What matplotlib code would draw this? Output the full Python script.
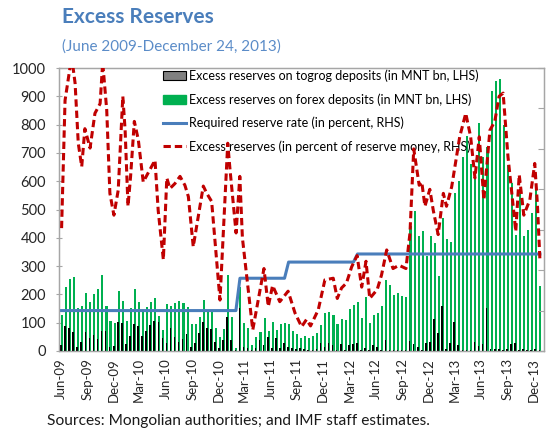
import numpy as np
import pandas as pd
import matplotlib
matplotlib.use('Agg')
import matplotlib.pyplot as plt
from matplotlib.patches import Patch
from matplotlib.lines import Line2D

plt.rcParams['font.family'] = ['Lato', 'DejaVu Sans']

# biweekly observations, June 2009 - December 24, 2013 (MNT bn, LHS)
togrog = [21, 88, 82, 68, 13, 33, 66, 45, 57, 41, 72, 72, 15, 16, 104, 100, 24, 53,
          95, 89, 53, 71, 92, 107, 104, 45, 27, 82, 48, 33, 41, 60, 15, 29, 62, 104,
          80, 77, 33, 12, 39, 119, 39, 5, 151,
          13, 12, 5, 10, 39, 21, 48, 10, 45, 10, 27, 15,
          10, 8, 12, 8, 5, 5, 8, 27, 15, 30, 21, 5, 24, 5, 21, 24, 30, 5, 10, 5, 21,
          15, 5, 39, 5, 5, 5, 5, 5,
          36, 25, 13, 5, 30, 33, 114, 65, 160, 8, 28, 104, 20, 5, 5, 5, 31, 19, 23,
          151, 8, 8, 8, 5, 8, 23, 27, 5, 8, 5, 5, 8, 5]
forex = [127, 225, 253, 260, 151, 159, 204, 173, 201, 220, 268, 160, 106, 100, 212,
         177, 106, 151, 218, 172, 139, 157, 174, 186, 124, 74, 166, 159, 171, 177,
         171, 157, 95, 95, 121, 180, 138, 138, 80, 48, 77, 268, 119, 10, 225,
         98, 80, 21, 51, 68, 115, 72, 104, 74, 95, 100, 95,
         71, 59, 45, 53, 45, 53, 65, 92, 133, 138, 127, 95, 114, 110, 148, 163, 173,
         115, 192, 100, 127, 133, 159, 251, 233, 198, 204, 194, 190,
         443, 496, 406, 424, 335, 407, 383, 265, 469, 396, 386, 557, 602, 684, 760,
         661, 622, 807, 687, 720, 920, 955, 961, 800, 657, 592, 410, 563, 406, 428,
         487, 587, 230]
# required reserve rate, percent (RHS)
req_rate = [5.0] * 44 + [9.0] * 12 + [11.0] * 17 + [12.0] * 46

# excess reserves in percent of reserve money (RHS)
excess_dates = ['2009-06-04', '2009-06-16', '2009-07-09', '2009-07-21', '2009-08-01',
                '2009-08-13', '2009-08-24', '2009-09-11', '2009-09-28', '2009-10-16',
                '2009-10-25', '2009-11-08', '2009-11-19', '2009-12-03', '2009-12-18',
                '2010-01-03', '2010-01-11', '2010-01-21', '2010-01-30', '2010-02-12',
                '2010-02-26', '2010-03-15', '2010-04-25', '2010-05-06', '2010-05-24',
                '2010-06-05', '2010-06-16', '2010-07-03', '2010-07-21', '2010-08-07',
                '2010-08-19', '2010-09-05', '2010-10-10', '2010-10-22', '2010-11-08',
                '2010-12-07', '2011-01-03', '2011-01-11', '2011-02-01', '2011-02-14',
                '2011-02-23', '2011-03-31', '2011-05-09', '2011-05-24', '2011-06-08',
                '2011-07-03', '2011-08-01', '2011-08-25', '2011-09-17', '2011-10-04',
                '2011-10-18', '2011-11-14', '2011-12-07', '2012-01-05', '2012-01-19',
                '2012-02-03', '2012-02-20', '2012-03-09', '2012-03-28', '2012-04-13',
                '2012-04-28', '2012-05-11', '2012-06-06', '2012-06-21', '2012-07-09',
                '2012-07-31', '2012-08-21', '2012-09-14', '2012-09-28', '2012-10-11',
                '2012-10-30', '2012-11-08', '2012-11-19', '2012-12-06', '2012-12-18',
                '2013-01-04', '2013-01-22', '2013-02-02', '2013-02-20', '2013-03-20',
                '2013-04-10', '2013-04-27', '2013-05-12', '2013-05-27', '2013-06-12',
                '2013-07-03', '2013-07-20', '2013-08-04', '2013-08-18', '2013-09-04',
                '2013-09-22', '2013-10-01', '2013-10-13', '2013-10-29', '2013-11-19',
                '2013-12-06', '2013-12-15', '2013-12-24']
excess_pct = [15.2, 31.0, 36.4, 33.1, 25.7, 22.8, 27.5, 25.1, 29.4, 30.6,
              35.7, 29.8, 19.5, 16.8, 19.9, 31.5, 27.3, 17.9, 21.6, 28.4,
              26.1, 20.9, 23.6, 17.4, 11.3, 21.4, 20.1, 20.7, 21.6, 20.5,
              19.1, 12.9, 20.4, 19.5, 18.5, 6.3, 25.7, 22.4, 14.6, 21.6,
              14.0, 2.6, 10.2, 5.5, 8.1, 6.1, 7.4, 4.7, 3.0, 3.9,
              3.1, 5.1, 8.8, 9.0, 6.5, 7.8, 8.4, 10.4, 11.8, 7.9,
              11.1, 6.5, 7.6, 9.4, 12.5, 10.2, 10.6, 10.2, 14.6, 25.0,
              20.5, 20.9, 17.9, 20.0, 17.4, 14.4, 19.5, 17.9, 20.3, 26.5,
              29.4, 26.5, 21.4, 26.5, 18.7, 27.3, 28.4, 31.5, 31.9, 24.0,
              17.9, 14.8, 21.8, 16.8, 18.7, 23.2, 18.3, 11.3]

tick_dates = pd.date_range('2009-06-01', '2013-12-01', freq='3MS')
tick_labels = [d.strftime('%b-%y') for d in tick_dates]

bar_dates = pd.date_range('2009-06-04', '2013-12-24', periods=len(forex))
ex_dates = pd.to_datetime(excess_dates)

TITLE_BLUE = '#4a7ebb'
GREEN = '#00b050'
RED = '#c00000'
LINE_BLUE = '#4a7ebb'
GRID = '#a6a6a6'

fig = plt.figure(figsize=(5.47, 4.32), dpi=100)
ax = fig.add_axes([0.1084, 0.1875, 0.886, 0.655])

ax.bar(bar_dates + pd.Timedelta(days=1), forex, width=7.2, color=GREEN, linewidth=0,
       antialiased=False, zorder=2)
ax.bar(bar_dates - pd.Timedelta(days=2), togrog, width=5.5, color='black', linewidth=0,
       antialiased=False, zorder=3)

ax.set_ylim(0, 1000)
ax.set_yticks(np.arange(0, 1001, 100))
ax.set_xlim(pd.Timestamp('2009-05-27'), pd.Timestamp('2014-01-07'))
ax.set_xticks(tick_dates)
ax.set_xticklabels(tick_labels, rotation=90, fontsize=9.5, color='#262626')
ax.tick_params(axis='x', length=0, pad=5)
ax.tick_params(axis='y', direction='inout', length=5, color=GRID, labelsize=10.5,
               labelcolor='#262626', pad=7)
for s in ax.spines.values():
    s.set_color(GRID)
    s.set_linewidth(0.9)

ax2 = ax.twinx()
ax2.set_ylim(0, 35)
ax2.set_yticks(np.arange(0, 36, 5))
ax2.tick_params(axis='y', direction='in', length=4, color=GRID, labelright=False)
for s in ax2.spines.values():
    s.set_color(GRID)
    s.set_linewidth(0.9)
ax2.plot(bar_dates, req_rate, color=LINE_BLUE, lw=2.2, zorder=3)
ax2.plot(ex_dates, excess_pct, color=RED, lw=2.2, linestyle=(0, (2.4, 1.3)), zorder=4)

handles = [Patch(facecolor='#808080', edgecolor='black', linewidth=0.8),
           Patch(facecolor=GREEN, edgecolor=GREEN),
           Line2D([], [], color=LINE_BLUE, lw=2.2),
           Line2D([], [], color=RED, lw=2.2, linestyle=(0, (2.4, 1.3)))]
labels = ['Excess reserves on togrog deposits (in MNT bn, LHS)',
          'Excess reserves on forex deposits (in MNT bn, LHS)',
          'Required reserve rate (in percent, RHS)',
          'Excess reserves (in percent of reserve money, RHS)']
ax.legend(handles, labels, loc='upper left', bbox_to_anchor=(0.214, 0.995),
          frameon=False, fontsize=9, handlelength=1.85, handletextpad=0.25,
          labelspacing=0.88, borderpad=0, borderaxespad=0)

fig.text(62 / 547, 1 - 17 / 432, 'Excess Reserves', fontsize=15, fontweight='bold',
         color=TITLE_BLUE, va='center', ha='left')
fig.text(62 / 547, 1 - 47 / 432, '(June 2009-December 24, 2013)', fontsize=11,
         color='#5b8cc8', va='center', ha='left')
fig.text(47 / 547, 1 - 421 / 432, 'Sources: Mongolian authorities; and IMF staff estimates.',
         fontsize=11.2, color='#1a1a1a', va='center', ha='left')

fig.savefig('out.png', dpi=100)
